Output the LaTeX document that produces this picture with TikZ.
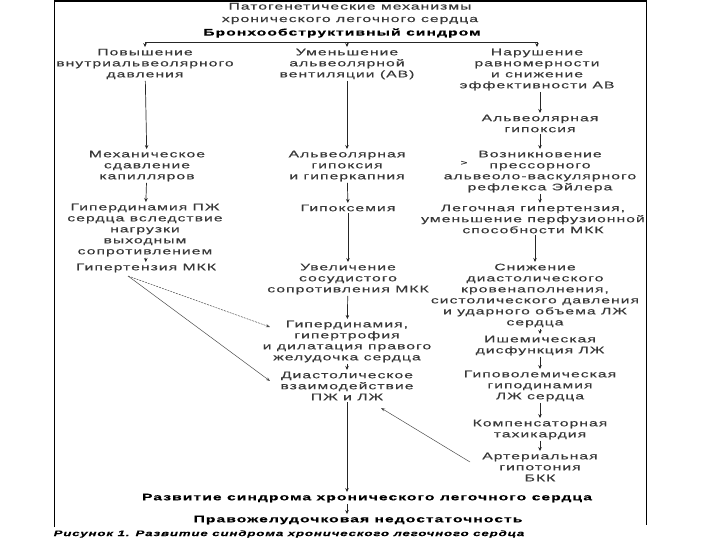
\documentclass[tikz,border=0pt]{standalone}
\usepackage{fontspec}
\setmainfont{Liberation Sans}[FakeStretch=1.65,LetterSpace=11,FakeBold=0.35]
\usetikzlibrary{arrows.meta}
\begin{document}
\begin{tikzpicture}[x=1pt,y=-1pt,
  box/.style={align=center,inner sep=1.5pt,text=black!78,font=\fontsize{9.5}{11}\selectfont},
  bbox/.style={align=center,inner sep=1.5pt,text=black,font=\fontsize{9.5}{11}\selectfont\bfseries},
  arr/.style={draw=black!85,line width=0.7pt,-{Stealth[length=4pt,width=3.5pt]}},
  thinarr/.style={draw=black!70,line width=0.5pt,-{Stealth[length=4pt,width=3pt]}},
  barline/.style={draw=black!85,line width=0.7pt},
  framel/.style={draw=black,line width=1pt}]
\useasboundingbox (0,0) rectangle (720,540);
% frame
\draw[framel] (54,527) -- (54,1) -- (646,1) -- (646,525);
\draw[draw=black,line width=1.6pt] (54,1) -- (646,1);
% title
\node[box,font=\fontsize{9.5}{12.5}\selectfont] (title) at (350,13.5) {Патогенетические механизмы\\хронического легочного сердца};
\node[bbox] (bro) at (342,33) {Бронхообструктивный синдром};
\coordinate (bar) at (0,42);
% row A
\node[box] (a1) at (145,64) {Повышение\\внутриальвеолярного\\давления};
\node[box] (a2) at (347,64) {Уменьшение\\альвеолярной\\вентиляции (АВ)};
\node[box] (a3) at (537,69.5) {Нарушение\\равномерности\\и снижение\\эффективности АВ};
\draw[barline] (a1.north |- bar) -- (a3.north |- bar);
\foreach \n in {a1,a2,a3} \draw[arr] (\n.north |- bar) -- (\n.north);
% column 3 upper
\node[box] (b3) at (540,123.5) {Альвеолярная\\гипоксия};
% row B
\node[box] (b1) at (147,166) {Механическое\\сдавление\\капилляров};
\node[box] (b2) at (347,166) {Альвеолярная\\гипоксия\\и гиперкапния};
\node[box] (c3) at (540,171.5) {Возникновение\\прессорного\\альвеоло-васкулярного\\рефлекса Эйлера};
\node[box,font=\fontsize{7}{8}\selectfont] (gt) at (464,163) {>};
% row C
\node[box] (c1) at (145,230) {Гипердинамия ПЖ\\сердца вследствие\\нагрузки\\выходным\\сопротивлением};
\node[box] (c2) at (348,208) {Гипоксемия};
\node[box] (d3) at (533,219) {Легочная гипертензия,\\уменьшение перфузионной\\способности МКК};
% row D
\node[box] (d1) at (146,268) {Гипертензия МКК};
\node[box] (d2) at (348,279) {Увеличение\\сосудистого\\сопротивления МКК};
\node[box] (e3) at (535,295.5) {Снижение\\диастолического\\кровенаполнения,\\систолического давления\\и ударного объема ЛЖ\\сердца};
% lower
\node[box] (e2) at (347,341.5) {Гипердинамия,\\гипертрофия\\и дилатация правого\\желудочка сердца};
\node[box] (f3) at (540,345.5) {Ишемическая\\дисфункция ЛЖ};
\node[box] (f2) at (347,386) {Диастолическое\\взаимодействие\\ПЖ и ЛЖ};
\node[box] (g3) at (540,386) {Гиповолемическая\\гиподинамия\\ЛЖ сердца};
\node[box] (h3) at (540,429.5) {Компенсаторная\\тахикардия};
\node[box] (i3) at (540,467) {Артериальная\\гипотония\\БКК};
\node[bbox] (dev) at (367,498) {Развитие синдрома хронического легочного сердца};
\node[bbox] (rvf) at (358,520) {Правожелудочковая недостаточность};
\node[bbox,anchor=west,font=\fontsize{8}{10}\selectfont\bfseries\itshape] (cap) at (52,534) {Рисунок 1. Развитие синдрома хронического легочного сердца};
% vertical connectors
\draw[arr] (a1) -- (b1);
\draw[arr] (b1) -- (c1);
\draw[arr] (c1) -- (d1);
\draw[arr] (a2) -- (b2);
\draw[arr] (b2) -- (c2);
\draw[arr] (c2) -- (d2);
\draw[arr] (d2) -- (e2);
\draw[arr] (e2) -- (f2);
\draw[arr] (f2) -- (f2 |- dev.north);
\draw[arr] (f2 |- dev.south) -- (f2 |- rvf.north);
\draw[arr] (a3.south -| b3) -- (b3);
\draw[arr] (b3) -- (c3);
\draw[arr] (c3) -- (c3 |- d3.north);
\draw[arr] (d3.south -| e3) -- (e3.north);
\draw[arr] (e3.south -| f3) -- (f3);
\draw[arr] (f3) -- (g3);
\draw[arr] (g3) -- (h3);
\draw[arr] (h3) -- (i3);
% oblique connectors
\coordinate (d1s) at (128,276);
\coordinate (e2w) at (270,327);
\coordinate (f2w) at (270,381);
\coordinate (i3w) at (470,462);
\coordinate (f2se) at (381,408);
\draw[thinarr,dash pattern=on 2pt off 1pt] (d1s) -- (e2w);
\draw[thinarr] (d1s) -- (f2w);
\draw[thinarr] (i3w) -- (f2se);
\end{tikzpicture}
\end{document}
